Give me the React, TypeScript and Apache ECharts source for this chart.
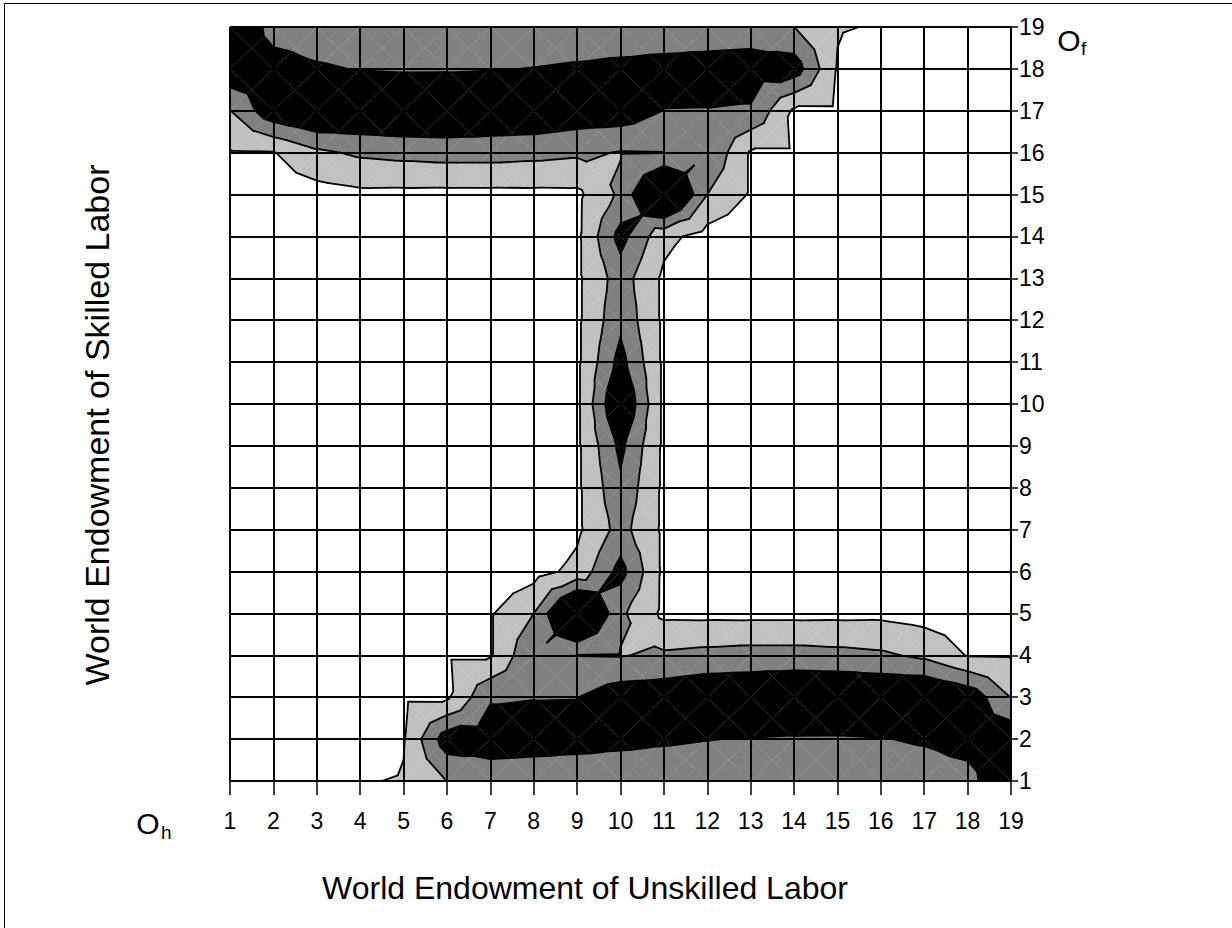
import React, { useEffect, useRef } from 'react';
import * as echarts from 'echarts';

// Axis ticks (world endowments)
const X_TICKS = [1, 2, 3, 4, 5, 6, 7, 8, 9, 10, 11, 12, 13, 14, 15, 16, 17, 18, 19];
const Y_TICKS = [1, 2, 3, 4, 5, 6, 7, 8, 9, 10, 11, 12, 13, 14, 15, 16, 17, 18, 19];

// Contour levels and band colours (white, light gray, gray, black)
const LEVELS = [1, 2, 3];
const BAND_COLORS = ['#ffffff', '#c0c0c0', '#808080', '#000000'];

// Surface values, one row per skilled-labour endowment (top row = 19), columns x = 1..19
const ROW_19 = [4.2, 2.6, 2.5, 2.5, 2.5, 2.5, 2.5, 2.5, 2.5, 2.5, 2.5, 2.5, 2.5, 2.02, 1.05, 0.95, 0, 0, 0];
const ROW_18 = [3.81, 3.43, 3.1, 2.96, 2.9, 2.91, 2.96, 3.02, 3.1, 3.19, 3.28, 3.36, 3.46, 3.55, 0.95, 0.5, 0, 0, 0];
const ROW_17 = [1.97, 3.75, 4.26, 4.06, 4.12, 4.07, 3.9, 3.88, 3.65, 3.6, 2.98, 2.97, 2.91, 0.84, 0.85, 0.5, 0, 0, 0];
const ROW_16 = [0.915, 0.95, 1.8, 2.17, 2.31, 2.4, 2.4, 2.31, 2.17, 1.95, 1.98, 2.95, 0.9, 0.9, 0.5, 0, 0, 0, 0];
const ROW_15 = [0, 0.5, 0.6, 0.78, 0.75, 0.73, 0.73, 0.75, 0.78, 2.2, 5.2, 2.0, 0.9, 0.5, 0, 0, 0, 0, 0];
const ROW_14 = [0, 0, 0, 0, 0, 0, 0, 0, 0.8, 3.35, 1.3, 0.6, 0.3, 0, 0, 0, 0, 0, 0];
const ROW_13 = [0, 0, 0, 0, 0, 0, 0, 0, 0.8, 2.5, 0.8, 0, 0, 0, 0, 0, 0, 0, 0];
const ROW_12 = [0, 0, 0, 0, 0, 0, 0, 0, 0.8, 2.76, 0.8, 0, 0, 0, 0, 0, 0, 0, 0];
const ROW_11 = [0, 0, 0, 0, 0, 0, 0, 0, 0.8, 3.36, 0.8, 0, 0, 0, 0, 0, 0, 0, 0];
const ROW_10 = [0, 0, 0, 0, 0, 0, 0, 0, 0.8, 4.2, 0.8, 0, 0, 0, 0, 0, 0, 0, 0];
const ROW_9 = [0, 0, 0, 0, 0, 0, 0, 0, 0.8, 3.25, 0.8, 0, 0, 0, 0, 0, 0, 0, 0];
const ROW_8 = [0, 0, 0, 0, 0, 0, 0, 0, 0.8, 2.8, 0.8, 0, 0, 0, 0, 0, 0, 0, 0];
const ROW_7 = [0, 0, 0, 0, 0, 0, 0, 0, 0.8, 2.38, 0.8, 0, 0, 0, 0, 0, 0, 0, 0];
const ROW_6 = [0, 0, 0, 0, 0, 0, 0.3, 0.6, 1.3, 3.35, 0.8, 0, 0, 0, 0, 0, 0, 0, 0];
const ROW_5 = [0, 0, 0, 0, 0, 0.5, 0.9, 2.0, 5.2, 2.2, 0.78, 0.75, 0.73, 0.73, 0.75, 0.78, 0.6, 0.5, 0];
const ROW_4 = [0, 0, 0, 0, 0.5, 0.9, 0.9, 2.95, 1.98, 1.95, 2.17, 2.31, 2.4, 2.4, 2.31, 2.17, 1.8, 0.95, 0.915];
const ROW_3 = [0, 0, 0, 0.5, 0.85, 0.84, 2.91, 2.97, 2.98, 3.6, 3.65, 3.88, 3.9, 4.07, 4.12, 4.06, 4.26, 3.75, 1.97];
const ROW_2 = [0, 0, 0, 0.5, 0.95, 3.55, 3.46, 3.36, 3.28, 3.19, 3.1, 3.02, 2.96, 2.91, 2.9, 2.96, 3.1, 3.43, 3.81];
const ROW_1 = [0, 0, 0, 0.95, 1.05, 2.02, 2.5, 2.5, 2.5, 2.5, 2.5, 2.5, 2.5, 2.5, 2.5, 2.5, 2.5, 2.6, 4.2];

const ROWS_TOP_DOWN = [
  ROW_19, ROW_18, ROW_17, ROW_16, ROW_15, ROW_14, ROW_13, ROW_12, ROW_11, ROW_10,
  ROW_9, ROW_8, ROW_7, ROW_6, ROW_5, ROW_4, ROW_3, ROW_2, ROW_1,
];

const X_TITLE = 'World Endowment of Unskilled Labor';
const Y_TITLE = 'World Endowment of Skilled Labor';

type P = [number, number, number];

const zAt = (x: number, y: number): number => ROWS_TOP_DOWN[Y_TICKS[Y_TICKS.length - 1] - y][x - X_TICKS[0]];

// cell list: lower-left corners
const CELLS: number[][] = [];
for (let yi = 0; yi < Y_TICKS.length - 1; yi++) {
  for (let xi = 0; xi < X_TICKS.length - 1; xi++) {
    CELLS.push([X_TICKS[xi], Y_TICKS[yi]]);
  }
}

function triangles(x0: number, y0: number): P[][] {
  const bl: P = [x0, y0, zAt(x0, y0)];
  const br: P = [x0 + 1, y0, zAt(x0 + 1, y0)];
  const tr: P = [x0 + 1, y0 + 1, zAt(x0 + 1, y0 + 1)];
  const tl: P = [x0, y0 + 1, zAt(x0, y0 + 1)];
  const c: P = [x0 + 0.5, y0 + 0.5, (bl[2] + br[2] + tr[2] + tl[2]) / 4];
  return [
    [bl, br, c],
    [br, tr, c],
    [tr, tl, c],
    [tl, bl, c],
  ];
}

function clip(poly: P[], t: number, keepAbove: boolean): P[] {
  const out: P[] = [];
  const n = poly.length;
  for (let k = 0; k < n; k++) {
    const a = poly[k];
    const b = poly[(k + 1) % n];
    const ia = keepAbove ? a[2] >= t : a[2] < t;
    const ib = keepAbove ? b[2] >= t : b[2] < t;
    if (ia) out.push(a);
    if (ia !== ib) {
      const f = (t - a[2]) / (b[2] - a[2]);
      out.push([a[0] + f * (b[0] - a[0]), a[1] + f * (b[1] - a[1]), t]);
    }
  }
  return out;
}

const renderFill = (params: any, api: any) => {
  const x0 = api.value(0);
  const y0 = api.value(1);
  const children: any[] = [];
  for (const tri of triangles(x0, y0)) {
    for (let b = 1; b < BAND_COLORS.length; b++) {
      let poly = clip(tri, LEVELS[b - 1], true);
      if (b < LEVELS.length && poly.length >= 3) poly = clip(poly, LEVELS[b], false);
      if (poly.length >= 3) {
        children.push({
          type: 'polygon',
          shape: { points: poly.map((p) => api.coord([p[0], p[1]])) },
          style: { fill: BAND_COLORS[b], stroke: BAND_COLORS[b], lineWidth: 0.2 },
        });
      }
    }
  }
  return { type: 'group', children };
};

const renderLines = (params: any, api: any) => {
  const x0 = api.value(0);
  const y0 = api.value(1);
  const children: any[] = [];
  for (const tri of triangles(x0, y0)) {
    for (const t of LEVELS) {
      const pts: number[][] = [];
      for (let k = 0; k < 3; k++) {
        const a = tri[k];
        const b = tri[(k + 1) % 3];
        if ((a[2] >= t) !== (b[2] >= t)) {
          const f = (t - a[2]) / (b[2] - a[2]);
          pts.push(api.coord([a[0] + f * (b[0] - a[0]), a[1] + f * (b[1] - a[1])]));
        }
      }
      if (pts.length === 2) {
        children.push({
          type: 'line',
          shape: { x1: pts[0][0], y1: pts[0][1], x2: pts[1][0], y2: pts[1][1] },
          style: { stroke: '#000', lineWidth: 1.8, lineCap: 'round' },
        });
      }
    }
  }
  return { type: 'group', children };
};

const FONT = 'Arial, "Liberation Sans", sans-serif';

export default function App() {
  const ref = useRef<HTMLDivElement>(null);
  useEffect(() => {
    if (!ref.current) return;
    const chart = echarts.init(ref.current, null, { renderer: 'svg' });
    const axisCommon = {
      type: 'value' as const,
      min: 1,
      max: 19,
      interval: 1,
      z: 10,
      axisLine: { show: true, onZero: false, lineStyle: { color: '#000', width: 2 } },
      splitLine: { show: true, lineStyle: { color: '#000', width: 2 } },
    };
    chart.setOption({
      animation: false,
      backgroundColor: '#ffffff',
      grid: { left: 230, right: 1232 - 1011, top: 27, bottom: 928 - 781, containLabel: false },
      xAxis: {
        ...axisCommon,
        position: 'bottom',
        axisTick: { show: true, length: 14, lineStyle: { color: '#000', width: 1.5 } },
        axisLabel: { color: '#000', fontSize: 23, fontFamily: FONT, margin: 28 },
      },
      yAxis: {
        ...axisCommon,
        position: 'right',
        axisTick: { show: true, length: 7, lineStyle: { color: '#000', width: 1.5 } },
        axisLabel: { color: '#000', fontSize: 23, fontFamily: FONT, margin: 8 },
      },
      series: [
        { type: 'custom', renderItem: renderFill, data: CELLS, z: 1, silent: true },
        { type: 'custom', renderItem: renderLines, data: CELLS, z: 2, silent: true },
      ],
      graphic: [
        {
          type: 'polyline',
          shape: { points: [[4.5, 928], [4.5, 3.5], [1232, 3.5]] },
          style: { stroke: '#000', lineWidth: 1, fill: null },
        },
        {
          type: 'text',
          x: 585,
          y: 888,
          style: { text: X_TITLE, fontSize: 32, fontFamily: FONT, fill: '#000', align: 'center', verticalAlign: 'middle' },
        },
        {
          type: 'text',
          x: 97,
          y: 425,
          rotation: Math.PI / 2,
          style: { text: Y_TITLE, fontSize: 34, fontFamily: FONT, fill: '#000', align: 'center', verticalAlign: 'middle' },
        },
        {
          type: 'text',
          x: 148,
          y: 823,
          style: { text: 'O', fontSize: 30, fontFamily: FONT, fill: '#000', align: 'center', verticalAlign: 'middle' },
        },
        {
          type: 'text',
          x: 161,
          y: 832,
          style: { text: 'h', fontSize: 19, fontFamily: FONT, fill: '#000', align: 'left', verticalAlign: 'middle' },
        },
        {
          type: 'text',
          x: 1069,
          y: 40,
          style: { text: 'O', fontSize: 30, fontFamily: FONT, fill: '#000', align: 'center', verticalAlign: 'middle' },
        },
        {
          type: 'text',
          x: 1081,
          y: 48,
          style: { text: 'f', fontSize: 19, fontFamily: FONT, fill: '#000', align: 'left', verticalAlign: 'middle' },
        },
      ],
    });
    return () => chart.dispose();
  }, []);
  return (
    <div
      ref={ref}
      style={{ position: 'fixed', left: 0, top: 0, width: 1232, height: 928, background: '#ffffff' }}
    />
  );
}
